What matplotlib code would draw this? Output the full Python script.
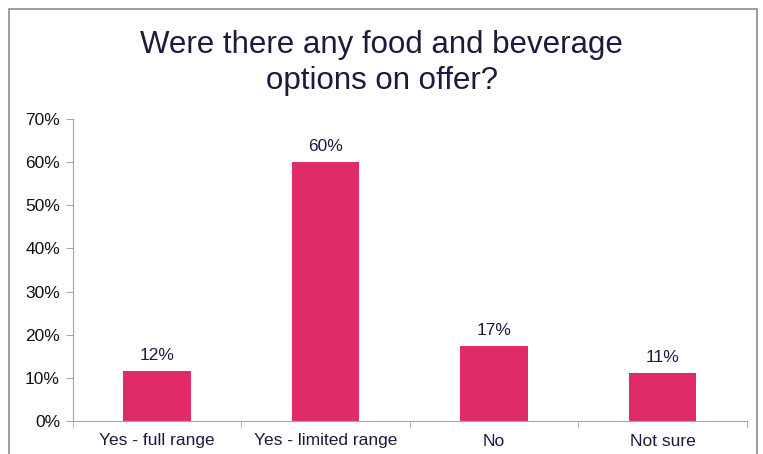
import matplotlib.pyplot as plt
from matplotlib.patches import Rectangle

categories = ['Yes - full range', 'Yes - limited range', 'No', 'Not sure']
shares = [0.116, 0.601, 0.174, 0.111]
y_ticks = [0, 0.1, 0.2, 0.3, 0.4, 0.5, 0.6, 0.7]

bar_color = '#E02B67'
text_color = '#1E1A3C'
axis_color = '#A6A6A6'

plt.rcParams['font.family'] = ['Liberation Sans', 'DejaVu Sans']

fig = plt.figure(figsize=(7.63, 4.54), dpi=100)
fig.patches.append(Rectangle((8.5 / 763, -0.1), (756.5 - 8.5) / 763, 1.1 - 9.5 / 454,
                             transform=fig.transFigure, fill=False,
                             edgecolor='#8C8C8C', linewidth=1.2))

ax = fig.add_axes([72.5 / 763, 1 - 421 / 454, (747 - 72.5) / 763, (421 - 119) / 454])
x = range(len(categories))
bars = ax.bar(x, shares, width=0.4, color=bar_color)
for xi, v in zip(x, shares):
    ax.text(xi, v + 0.018, f'{v:.0%}', ha='center', va='bottom',
            fontsize=12.5, color=text_color)

ax.set_xlim(-0.5, len(categories) - 0.5)
ax.set_ylim(0, 0.7)
ax.set_yticks(y_ticks)
ax.set_yticklabels([f'{t:.0%}' for t in y_ticks], fontsize=12.5, color='#111111')
ax.set_xticks(list(x))
ax.set_xticklabels(categories, fontsize=12.5, color=text_color)
ax.tick_params(axis='x', length=0, pad=9)
ax.set_xticks([i - 0.5 for i in range(len(categories) + 1)], minor=True)
ax.tick_params(axis='x', which='minor', length=5, color=axis_color)
ax.tick_params(axis='y', length=5, color=axis_color, pad=4)

for side in ['top', 'right']:
    ax.spines[side].set_visible(False)
for side in ['left', 'bottom']:
    ax.spines[side].set_color(axis_color)

fig.text(0.5, 1 - 63 / 454, 'Were there any food and beverage\noptions on offer?',
         ha='center', va='center', fontsize=22.5, color=text_color,
         linespacing=1.24)

fig.savefig('out.png', dpi=100)
